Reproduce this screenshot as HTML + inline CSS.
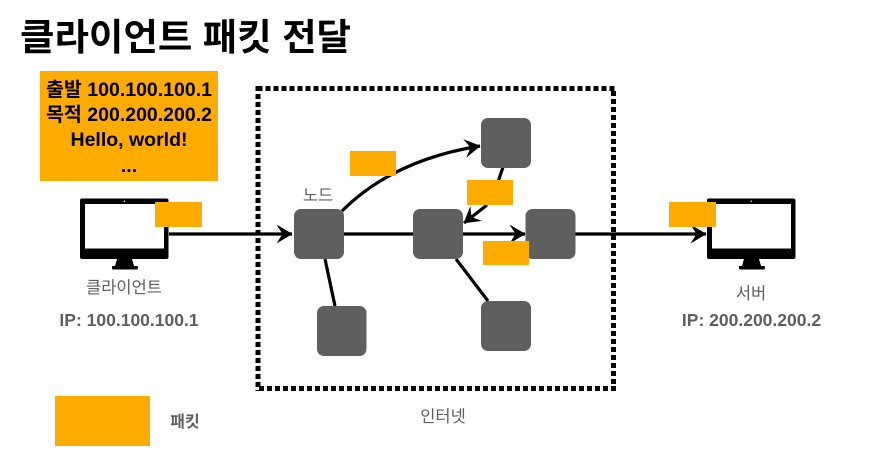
<!DOCTYPE html>
<html lang="ko"><head><meta charset="utf-8"><style>
html,body{margin:0;padding:0;background:#fff}
svg{display:block}
text{font-family:"Liberation Sans","Noto Sans CJK KR",sans-serif}
</style></head><body>
<svg width="873" height="474" viewBox="0 0 873 474" xmlns="http://www.w3.org/2000/svg">
<defs>
<g id="m">
<rect x="0" y="0.500" width="88.500" height="60.500" rx="2" fill="#000"/>
<rect x="5" y="6" width="79" height="44.500" fill="#fff"/>
<rect x="43.800" y="2.500" width="1" height="1.500" fill="#fff"/>
<path d="M37 61h15l2 7h3q1 0 1 1.500t-1 2H33q-1 0-1-2t1-1.500h2z" fill="#000"/>
</g>
<marker id="a" markerUnits="userSpaceOnUse" markerWidth="17" markerHeight="20" refX="15.500" refY="10" orient="auto"><path d="M0 0.500L16 10L0 19.500L6 10z" fill="#000"/></marker>
</defs>
<text x="20" y="50" font-size="37" font-weight="700" fill="#000" textLength="331" lengthAdjust="spacingAndGlyphs">클라이언트 패킷 전달</text>
<rect x="40" y="71" width="178" height="110" fill="#ffab00"/>
<g font-size="19.500" font-weight="700" fill="#000" text-anchor="middle">
<text x="129" y="96">출발 100.100.100.1</text>
<text x="129" y="121">목적 200.200.200.2</text>
<text x="129" y="146">Hello, world!</text>
<text x="129" y="172">...</text>
</g>
<g fill="none" stroke="#000" stroke-width="5" stroke-dasharray="5 3">
<path d="M257.500 88.500H616"/>
<path d="M258 94V391"/>
<path d="M613.500 91V391"/>
<path d="M259 388.500H616"/>
</g>
<rect x="255.500" y="86" width="7" height="5" fill="#000"/>
<use href="#m" x="80" y="198"/>
<use href="#m" x="707" y="198"/>
<g fill="none" stroke="#000" stroke-width="3.200">
<path d="M169 234H292" marker-end="url(#a)"/>
<path d="M344 234H413"/>
<path d="M463 234H525" marker-end="url(#a)"/>
<path d="M575 234H706" marker-end="url(#a)"/>
<path d="M342 211Q393 160 480 146" marker-end="url(#a)"/>
<path d="M503 167L498 182"/>
<path d="M487 205L464 223" marker-end="url(#a)"/>
<path d="M325 259L335 306"/>
<path d="M456 259L488 301"/>
</g>
<g fill="#5f5f5f">
<rect x="294" y="209" width="50" height="50" rx="7"/>
<rect x="413" y="209" width="50" height="50" rx="7"/>
<rect x="525.500" y="209" width="50" height="50" rx="7"/>
<rect x="481" y="118" width="50" height="50" rx="7"/>
<rect x="317" y="306" width="49.500" height="50" rx="7"/>
<rect x="481" y="301" width="50" height="50" rx="7"/>
</g>
<g fill="#ffab00">
<rect x="155" y="202" width="47" height="25"/>
<rect x="350" y="151" width="46" height="25"/>
<rect x="467" y="180" width="46" height="25"/>
<rect x="483" y="241" width="46" height="24"/>
<rect x="669" y="202" width="47" height="25"/>
<rect x="55" y="396" width="95" height="50"/>
</g>
<g font-size="16.500" fill="#5f5f5f" text-anchor="middle">
<text x="318" y="201">노드</text>
<text x="124" y="293">클라이언트</text>
<text x="751" y="299">서버</text>
<text x="443" y="422">인터넷</text>
</g>
<g font-size="17.500" font-weight="700" fill="#5f5f5f" text-anchor="middle">
<text x="129" y="326">IP: 100.100.100.1</text>
<text x="751.500" y="326">IP: 200.200.200.2</text>
</g>
<text x="185" y="427" font-size="16" font-weight="700" fill="#5f5f5f" text-anchor="middle">패킷</text>
</svg>
</body></html>
